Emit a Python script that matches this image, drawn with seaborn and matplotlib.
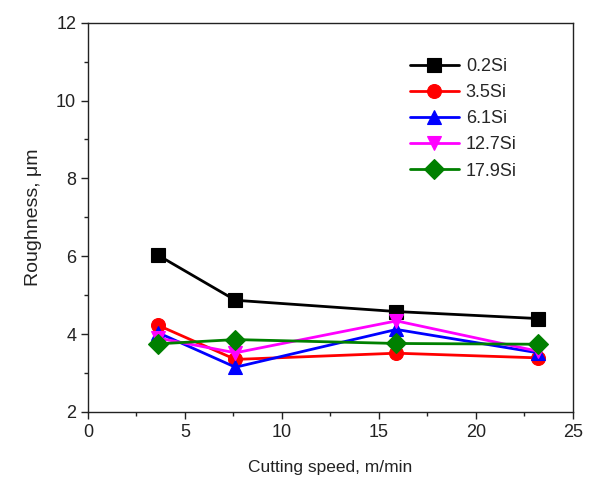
import matplotlib
matplotlib.use("Agg")
import matplotlib.pyplot as plt
import seaborn as sns
import pandas as pd
from matplotlib.ticker import MultipleLocator

speed = [3.6, 7.6, 15.9, 23.2]
alloys = ["0.2Si", "3.5Si", "6.1Si", "12.7Si", "17.9Si"]
rough_02 = [6.03, 4.87, 4.58, 4.40]
rough_35 = [4.23, 3.35, 3.51, 3.39]
rough_61 = [4.04, 3.15, 4.12, 3.52]
rough_127 = [3.90, 3.52, 4.34, 3.56]
rough_179 = [3.75, 3.86, 3.76, 3.74]
colors = ["#000000", "#ff0000", "#0000ff", "#ff00ff", "#008000"]
marker_list = ["s", "o", "^", "v", "D"]

series = [rough_02, rough_35, rough_61, rough_127, rough_179]
rows = []
for name, vals in zip(alloys, series):
    for s, v in zip(speed, vals):
        rows.append({"speed": s, "rough": v, "alloy": name})
df = pd.DataFrame(rows)

sns.set_style("ticks")
plt.rcParams["font.family"] = ["Liberation Sans", "DejaVu Sans"]

fig = plt.figure(figsize=(5.89, 4.84), dpi=100)
ax = fig.add_axes([0.1494, 0.1488, 0.8234, 0.8043])

sns.lineplot(data=df, x="speed", y="rough", hue="alloy", style="alloy",
             hue_order=alloys, style_order=alloys,
             palette=dict(zip(alloys, colors)),
             markers=dict(zip(alloys, marker_list)), dashes=False,
             markersize=10, linewidth=2.0, markeredgewidth=0.8, ax=ax)
for line, c in zip(ax.lines, colors):
    line.set_markeredgecolor(c)

ax.set_xlim(0, 25)
ax.set_ylim(2, 12)
ax.xaxis.set_major_locator(MultipleLocator(5))
ax.xaxis.set_minor_locator(MultipleLocator(2.5))
ax.yaxis.set_major_locator(MultipleLocator(2))
ax.yaxis.set_minor_locator(MultipleLocator(1))
ax.tick_params(which="both", direction="out", top=False, right=False, colors="#222222",
               labelsize=13, width=1)
ax.tick_params(which="major", length=5)
ax.tick_params(which="minor", length=3)
for sp in ax.spines.values():
    sp.set_visible(True)
    sp.set_linewidth(1.0)
    sp.set_color("#222222")

ax.set_xlabel("Cutting speed, m/min", fontsize=12.5, labelpad=14, color="#222222")
ax.set_ylabel("Roughness, μm", fontsize=14, labelpad=10, color="#222222")

handles, labels = ax.get_legend_handles_labels()
for h, c in zip(handles, colors):
    h.set_markeredgecolor(c)
ax.legend(handles, labels, loc="upper left", bbox_to_anchor=(0.63, 0.95),
          frameon=False, fontsize=13, handlelength=2.7, labelspacing=0.5,
          handletextpad=0.4)

fig.savefig("out.png", dpi=100)
